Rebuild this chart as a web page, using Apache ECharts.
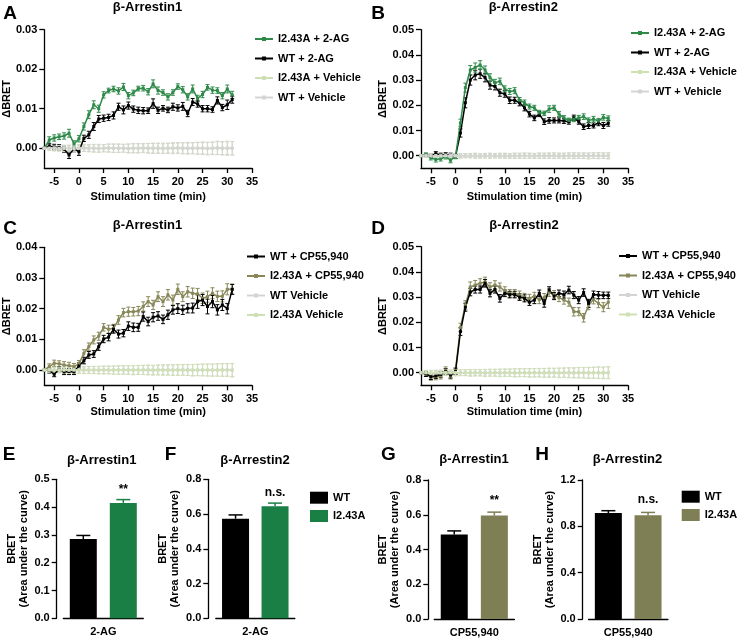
<!DOCTYPE html>
<html>
<head>
<meta charset="utf-8">
<script src="https://cdn.jsdelivr.net/npm/echarts@6/dist/echarts.min.js"></script>
<style>html,body{margin:0;background:#fff}#chart{width:740px;height:641px}</style>
</head>
<body>
<div id="chart"></div>
<script>
// time points (min), shared by the kinetic panels
const times = [-7,-6,-5,-4,-3,-2,-1,0,1,2, 3,4,5,6,7,8,9,10,11,12, 13,14,15,16,17,18,19,20,21,22, 23,24,25,26,27,28,29,30,31];

// A: beta-arrestin1, 2-AG
const aI = [0,.0021,.0026,.0029,.0031,.0038,.0011,.0024,.0055,.0085, .0110,.0100,.0135,.0146,.0150,.0145,.0155,.0133,.0140,.0151, .0152,.0143,.0163,.0146,.0141,.0130,.0141,.0156,.0148,.0130, .0150,.0126,.0136,.0154,.0147,.0146,.0133,.0150,.0135];
const aIerr = [0,.0008,.0008,.0007,.0008,.0010,.0008,.0008,.0009,.0010, .0010,.0009,.0008,.0006,.0007,.0008,.0009,.0008,.0007,.0006, .0007,.0008,.0010,.0009,.0007,.0008,.0007,.0007,.0008,.0008, .0010,.0008,.0008,.0007,.0008,.0007,.0008,.0010,.0009];
const aW = [0,.0005,.0003,.0002,-.0002,-.0017,-.0001,-.0009,.0025,.0034, .0055,.0074,.0076,.0078,.0083,.0105,.0097,.0108,.0099,.0096, .0095,.0095,.0113,.0096,.0101,.0097,.0105,.0102,.0106,.0088, .0117,.0112,.0100,.0100,.0098,.0121,.0103,.0110,.0123];
const aWerr = [0,.0006,.0007,.0007,.0008,.0009,.0008,.0009,.0008,.0009, .0010,.0009,.0008,.0008,.0009,.0009,.0010,.0009,.0008,.0008, .0008,.0007,.0012,.0008,.0007,.0007,.0009,.0008,.0010,.0008, .0009,.0008,.0008,.0008,.0007,.0009,.0008,.0012,.0009];
const aVI = [0,0,0,-.0001,0,0,-.0001,0,0,0, 0,-.0001,0,0,0,0,0,-.0001,0,0, 0,0,0,0,-.0001,0,0,0,0,0, 0,0,0,-.0001,0,0,0,0,0];
const aVIerr = [0,.0006,.0007,.0006,.0008,.0007,.0008,.0009,.0008,.0009, .0010,.0009,.0009,.0010,.0011,.0010,.0010,.0011,.0012,.0011, .0011,.0012,.0012,.0013,.0012,.0013,.0012,.0013,.0014,.0013, .0014,.0015,.0014,.0016,.0015,.0016,.0017,.0016,.0017];
const aVW = [0,0,.0001,0,0,0,0,0,.0001,0, 0,0,0,.0001,0,0,0,0,0,0, .0001,0,0,0,0,0,0,.0001,0,0, 0,0,0,0,0,.0001,0,0,0];
const aVWerr = [0,.0005,.0006,.0007,.0007,.0008,.0007,.0008,.0009,.0008, .0009,.0010,.0009,.0010,.0010,.0011,.0010,.0011,.0011,.0012, .0011,.0012,.0013,.0012,.0013,.0012,.0014,.0013,.0014,.0015, .0014,.0015,.0016,.0015,.0016,.0017,.0016,.0018,.0017];

// B: beta-arrestin2, 2-AG
const bI = [0,.0003,-.0008,-.0015,-.0012,-.0005,-.0018,-.0003,.0130,.0270, .0340,.0350,.0360,.0340,.0310,.0290,.0295,.0265,.0255,.0258, .0220,.0210,.0195,.0190,.0170,.0168,.0185,.0190,.0165,.0150, .0140,.0145,.0150,.0155,.0140,.0145,.0138,.0152,.0148];
const bIerr = [0,.0008,.0009,.0010,.0009,.0008,.0010,.0009,.0015,.0018, .0018,.0018,.0017,.0016,.0015,.0013,.0013,.0012,.0012,.0012, .0011,.0011,.0010,.0010,.0010,.0009,.0013,.0010,.0010,.0009, .0009,.0010,.0010,.0011,.0010,.0011,.0010,.0011,.0010];
const bW = [0,.0002,0,.0008,.0003,.0003,.0002,-.0003,.0090,.0210, .0300,.0320,.0325,.0310,.0280,.0275,.0250,.0245,.0220,.0220, .0210,.0190,.0165,.0150,.0165,.0135,.0140,.0140,.0140,.0138, .0135,.0150,.0135,.0115,.0120,.0120,.0130,.0120,.0128];
const bWerr = [0,.0007,.0008,.0008,.0007,.0009,.0008,.0008,.0016,.0020, .0020,.0019,.0018,.0017,.0016,.0014,.0014,.0013,.0013,.0012, .0012,.0012,.0011,.0011,.0010,.0011,.0011,.0010,.0010,.0010, .0010,.0011,.0010,.0011,.0012,.0010,.0011,.0012,.0011];
const bVI = [0,0,0,0,-.0001,0,0,0,-.0001,0, 0,0,-.0001,0,0,0,0,0,-.0001,0, 0,0,0,-.0001,0,0,0,0,0,-.0001, 0,0,0,0,-.0001,0,0,0,-.0001];
const bVIerr = [0,.0007,.0008,.0007,.0008,.0009,.0008,.0008,.0009,.0008, .0009,.0010,.0009,.0009,.0010,.0009,.0010,.0010,.0009,.0010, .0010,.0011,.0010,.0010,.0011,.0010,.0011,.0011,.0010,.0011, .0011,.0012,.0011,.0011,.0012,.0011,.0012,.0011,.0012];
const bVW = [0,0,0,0,0,0,0,0,0,0, 0,0,0,0,0,0,0,0,0,0, 0,0,0,0,0,0,0,0,0,0, 0,0,0,0,0,0,0,0,0];
const bVWerr = [0,.0006,.0007,.0007,.0007,.0008,.0008,.0007,.0008,.0008, .0008,.0009,.0008,.0009,.0009,.0008,.0009,.0009,.0009,.0010, .0009,.0010,.0010,.0009,.0010,.0010,.0010,.0011,.0010,.0010, .0011,.0010,.0011,.0011,.0010,.0011,.0011,.0011,.0011];

// C: beta-arrestin1, CP55,940
const cW = [0,-.0002,-.0014,.0002,-.0006,-.0005,-.0006,.0013,.0030,.0049, .0052,.0076,.0101,.0107,.0133,.0117,.0120,.0143,.0139,.0139, .0174,.0158,.0172,.0176,.0165,.0180,.0196,.0200,.0196,.0201, .0202,.0223,.0228,.0207,.0223,.0196,.0212,.0200,.0263];
const cWerr = [0,.0008,.0008,.0009,.0009,.0010,.0009,.0010,.0010,.0011, .0011,.0012,.0012,.0012,.0013,.0013,.0012,.0014,.0014,.0013, .0015,.0014,.0015,.0014,.0014,.0015,.0014,.0016,.0015,.0015, .0016,.0022,.0018,.0024,.0020,.0017,.0018,.0017,.0016];
const cI = [0,.0011,.0022,.0020,.0016,.0014,.0011,.0020,.0054,.0076, .0098,.0110,.0139,.0133,.0136,.0163,.0187,.0190,.0190,.0192, .0207,.0223,.0212,.0239,.0223,.0245,.0228,.0263,.0239,.0255, .0250,.0248,.0234,.0239,.0250,.0240,.0240,.0263,.0263];
const cIerr = [0,.0009,.0010,.0010,.0011,.0011,.0010,.0011,.0012,.0012, .0013,.0013,.0012,.0013,.0013,.0014,.0014,.0015,.0014,.0015, .0015,.0016,.0015,.0016,.0016,.0017,.0016,.0017,.0016,.0017, .0017,.0018,.0017,.0018,.0018,.0017,.0018,.0018,.0017];
const cVW = [0,0,0,0,0,0,0,0,0,0, 0,0,0,0,0,0,0,0,0,0, 0,0,0,0,0,0,0,0,0,0, 0,0,0,0,0,0,0,0,0];
const cVWerr = [0,.0007,.0008,.0009,.0009,.0010,.0010,.0010,.0011,.0011, .0011,.0012,.0012,.0012,.0013,.0013,.0013,.0014,.0014,.0014, .0015,.0015,.0015,.0016,.0016,.0016,.0017,.0017,.0017,.0018, .0018,.0018,.0019,.0019,.0019,.0020,.0020,.0020,.0021];
const cVI = [0,0,-.0001,0,0,-.0001,0,0,-.0001,0, 0,-.0001,0,0,-.0001,0,0,0,-.0001,0, 0,0,-.0001,0,0,0,-.0001,0,0,0, -.0001,0,0,0,-.0001,0,0,0,-.0001];
const cVIerr = [0,.0008,.0009,.0009,.0010,.0010,.0010,.0011,.0011,.0012, .0012,.0012,.0013,.0013,.0013,.0014,.0014,.0014,.0015,.0015, .0015,.0016,.0016,.0016,.0017,.0017,.0017,.0018,.0018,.0018, .0019,.0019,.0019,.0020,.0020,.0020,.0021,.0021,.0022];

// D: beta-arrestin2, CP55,940
const dW = [0,-.0005,-.0016,-.0013,-.0007,.0004,-.0009,.0004,.0163,.0260, .0320,.0330,.0330,.0355,.0315,.0330,.0295,.0315,.0310,.0310, .0300,.0295,.0280,.0288,.0315,.0275,.0328,.0304,.0315,.0310, .0328,.0308,.0288,.0318,.0275,.0310,.0308,.0307,.0307];
const dWerr = [0,.0010,.0011,.0010,.0011,.0012,.0012,.0011,.0015,.0016, .0015,.0014,.0014,.0015,.0014,.0014,.0015,.0013,.0013,.0013, .0013,.0014,.0013,.0014,.0013,.0015,.0013,.0014,.0013,.0014, .0015,.0014,.0014,.0015,.0016,.0014,.0014,.0013,.0013];
const dI = [0,-.0003,-.0018,-.0016,-.0013,.0010,-.0013,.0008,.0180,.0268, .0340,.0348,.0355,.0360,.0340,.0348,.0340,.0325,.0315,.0315, .0308,.0300,.0295,.0304,.0290,.0298,.0318,.0310,.0298,.0288, .0280,.0242,.0242,.0218,.0268,.0290,.0275,.0260,.0280];
const dIerr = [0,.0011,.0012,.0012,.0012,.0013,.0012,.0012,.0016,.0018, .0020,.0018,.0018,.0019,.0017,.0017,.0016,.0016,.0015,.0015, .0016,.0015,.0016,.0015,.0016,.0016,.0015,.0016,.0016,.0016, .0016,.0017,.0016,.0017,.0018,.0017,.0017,.0018,.0025];
const dVW = [0,0,0,0,0,0,0,0,0,0, 0,0,0,0,0,0,0,0,0,0, 0,0,0,0,0,0,0,0,0,0, 0,0,0,0,0,0,0,0,0];
const dVWerr = [0,.0008,.0009,.0009,.0010,.0010,.0010,.0011,.0011,.0011, .0012,.0012,.0012,.0013,.0013,.0013,.0014,.0014,.0014,.0015, .0015,.0015,.0016,.0016,.0016,.0017,.0017,.0017,.0018,.0018, .0019,.0019,.0020,.0020,.0021,.0021,.0022,.0022,.0023];
const dVI = [0,0,-.0001,0,-.0001,0,0,-.0001,0,0, -.0001,0,0,-.0001,0,0,-.0001,0,0,-.0001, 0,0,-.0001,0,0,-.0001,0,0,-.0001,0, 0,-.0001,0,0,-.0001,0,0,-.0001,0];
const dVIerr = [0,.0009,.0010,.0010,.0011,.0011,.0011,.0012,.0012,.0012, .0013,.0013,.0013,.0014,.0014,.0014,.0015,.0015,.0015,.0016, .0016,.0016,.0017,.0017,.0017,.0018,.0018,.0018,.0019,.0019, .0020,.0020,.0021,.0021,.0022,.0022,.0023,.0023,.0024];

// E-H: area under the curve
const barCats = ['WT', 'I2.43A'];
const eVals = [0.285, 0.415], eErr = [0.013, 0.012];
const fVals = [0.573, 0.645], fErr = [0.022, 0.018];
const gVals = [0.487, 0.595], gErr = [0.020, 0.020];
const hVals = [0.915, 0.895], hErr = [0.020, 0.025];
const sigLabels = ['**', 'n.s.', '**', 'n.s.'];

const xTicks = [-5, 0, 5, 10, 15, 20, 25, 30, 35];

const FONT = 'Liberation Sans, Arial, sans-serif';
const GREEN = '#2f8a4a', GREEN_BAR = '#1a7f45';
const OLIVE = '#878759', OLIVE_BAR = '#7f7f56';
const VEH_GREEN = '#cfe0b5', VEH_GREY = '#d4d4d4';

const chart = echarts.init(document.getElementById('chart'));

const axisStyle = { lineStyle: { color: '#000', width: 1.3 } };
const labelStyle = { color: '#000', fontSize: 11, fontWeight: 'bold', fontFamily: FONT };

function lineSeries(name, color, vals, g) {
  return {
    type: 'line', name, xAxisIndex: g, yAxisIndex: g,
    data: times.map((t, i) => [t, vals[i]]),
    symbol: 'rect', symbolSize: 3,
    lineStyle: { color, width: 1.5 }, itemStyle: { color },
    animation: false
  };
}

function errSeries(color, vals, errs, g) {
  return {
    type: 'custom', xAxisIndex: g, yAxisIndex: g, silent: true, animation: false,
    data: times.map((t, i) => [t, vals[i], errs[i]]),
    encode: { x: 0, y: 1 },
    renderItem(params, api) {
      const x = api.value(0), y = api.value(1), e = api.value(2);
      const lo = api.coord([x, y - e]), hi = api.coord([x, y + e]);
      const st = { stroke: color, lineWidth: 1 };
      return { type: 'group', children: [
        { type: 'line', shape: { x1: lo[0], y1: lo[1], x2: hi[0], y2: hi[1] }, style: st },
        { type: 'line', shape: { x1: lo[0] - 2, y1: lo[1], x2: lo[0] + 2, y2: lo[1] }, style: st },
        { type: 'line', shape: { x1: hi[0] - 2, y1: hi[1], x2: hi[0] + 2, y2: hi[1] }, style: st }
      ] };
    }
  };
}

const grids = [
  { left: 44, top: 29.7, width: 208, height: 138.3 },
  { left: 421, top: 29.7, width: 207, height: 138.6 },
  { left: 44, top: 247.3, width: 208, height: 138 },
  { left: 421, top: 246.7, width: 207, height: 138.6 },
  { left: 63.3, top: 479.3, width: 80, height: 139 },
  { left: 215.8, top: 479.3, width: 79, height: 139 },
  { left: 434.2, top: 480, width: 80.2, height: 139 },
  { left: 588.5, top: 480, width: 79.4, height: 139 }
];

const xAxes = [], yAxes = [];
const yMax = [0.03, 0.05, 0.04, 0.05];
const yTicks = [[0, .01, .02, .03], [0, .01, .02, .03, .04, .05], [0, .01, .02, .03, .04], [0, .01, .02, .03, .04, .05]];
for (let g = 0; g < 4; g++) {
  xAxes.push({
    type: 'value', gridIndex: g, min: -7, max: 35,
    name: 'Stimulation time (min)', nameLocation: 'middle', nameGap: g < 2 ? 23 : 21,
    nameTextStyle: labelStyle,
    axisLine: Object.assign({ onZero: false }, axisStyle),
    axisTick: { length: 5, lineStyle: axisStyle.lineStyle, customValues: xTicks },
    axisLabel: Object.assign({ margin: 8, customValues: xTicks }, labelStyle),
    splitLine: { show: false }
  });
  yAxes.push({
    type: 'value', gridIndex: g, min: -0.005, max: yMax[g],
    name: 'ΔBRET', nameLocation: 'middle', nameGap: 31,
    nameTextStyle: labelStyle,
    axisLine: Object.assign({ show: true, onZero: false }, axisStyle),
    axisTick: { show: true, length: 5, lineStyle: axisStyle.lineStyle, customValues: yTicks[g] },
    axisLabel: Object.assign({ margin: 7, customValues: yTicks[g], formatter: v => v.toFixed(2) }, labelStyle),
    splitLine: { show: false }
  });
}

const barSets = [
  { vals: eVals, err: eErr, color: GREEN_BAR, xName: '2-AG', max: 0.5, interval: 0.1, offset: 6.6, sigGap: 7 },
  { vals: fVals, err: fErr, color: GREEN_BAR, xName: '2-AG', max: 0.8, interval: 0.2, offset: 7.5, sigGap: 8 },
  { vals: gVals, err: gErr, color: OLIVE_BAR, xName: 'CP55,940', max: 0.8, interval: 0.2, offset: 5.9, sigGap: 9 },
  { vals: hVals, err: hErr, color: OLIVE_BAR, xName: 'CP55,940', max: 1.2, interval: 0.4, offset: 5.8, sigGap: 10 }
];
barSets.forEach((b, k) => {
  const g = 4 + k;
  xAxes.push({
    type: 'category', gridIndex: g, data: barCats,
    name: b.xName, nameLocation: 'middle', nameGap: 8, nameTextStyle: labelStyle,
    axisLine: axisStyle,
    axisTick: { alignWithLabel: true, length: 5, lineStyle: axisStyle.lineStyle },
    axisLabel: { show: false }
  });
  yAxes.push({
    type: 'value', gridIndex: g, min: 0, max: b.max, interval: b.interval, offset: b.offset,
    name: 'BRET\n(Area under the curve)', nameLocation: 'middle', nameGap: 27,
    nameTextStyle: Object.assign({ lineHeight: 12 }, labelStyle),
    axisLine: Object.assign({ show: true, onZero: false }, axisStyle),
    axisTick: { show: true, length: 5, lineStyle: axisStyle.lineStyle },
    axisLabel: Object.assign({ margin: 7, formatter: v => v.toFixed(1) }, labelStyle),
    splitLine: { show: false }
  });
});

const series = [
  lineSeries('I2.43A + 2-AG', GREEN, aI, 0), errSeries(GREEN, aI, aIerr, 0),
  lineSeries('WT + 2-AG', '#000', aW, 0), errSeries('#000', aW, aWerr, 0),
  lineSeries('I2.43A + Vehicle', VEH_GREEN, aVI, 0), errSeries(VEH_GREEN, aVI, aVIerr, 0),
  lineSeries('WT + Vehicle', VEH_GREY, aVW, 0), errSeries(VEH_GREY, aVW, aVWerr, 0),

  lineSeries('WT + 2-AG', '#000', bW, 1), errSeries('#000', bW, bWerr, 1),
  lineSeries('I2.43A + 2-AG', GREEN, bI, 1), errSeries(GREEN, bI, bIerr, 1),
  lineSeries('I2.43A + Vehicle', VEH_GREEN, bVI, 1), errSeries(VEH_GREEN, bVI, bVIerr, 1),
  lineSeries('WT + Vehicle', VEH_GREY, bVW, 1), errSeries(VEH_GREY, bVW, bVWerr, 1),

  lineSeries('I2.43A + CP55,940', OLIVE, cI, 2), errSeries(OLIVE, cI, cIerr, 2),
  lineSeries('WT + CP55,940', '#000', cW, 2), errSeries('#000', cW, cWerr, 2),
  lineSeries('WT Vehicle', VEH_GREY, cVW, 2), errSeries(VEH_GREY, cVW, cVWerr, 2),
  lineSeries('I2.43A Vehicle', VEH_GREEN, cVI, 2), errSeries(VEH_GREEN, cVI, cVIerr, 2),

  lineSeries('I2.43A + CP55,940', OLIVE, dI, 3), errSeries(OLIVE, dI, dIerr, 3),
  lineSeries('WT + CP55,940', '#000', dW, 3), errSeries('#000', dW, dWerr, 3),
  lineSeries('WT Vehicle', VEH_GREY, dVW, 3), errSeries(VEH_GREY, dVW, dVWerr, 3),
  lineSeries('I2.43A Vehicle', VEH_GREEN, dVI, 3), errSeries(VEH_GREEN, dVI, dVIerr, 3)
];

barSets.forEach((b, k) => {
  const g = 4 + k;
  barCats.forEach((cat, i) => {
    const color = i === 0 ? '#000' : b.color;
    series.push({
      type: 'bar', name: cat, xAxisIndex: g, yAxisIndex: g, barWidth: 27, barGap: '-100%',
      data: barCats.map((c, j) => (j === i ? b.vals[j] : '-')),
      itemStyle: { color }, animation: false,
      label: i === 1 ? { show: true, position: 'top', distance: b.sigGap, formatter: sigLabels[k],
        color: '#000', fontSize: 12, fontWeight: 'bold', fontFamily: FONT } : { show: false }
    });
    series.push({
      type: 'custom', xAxisIndex: g, yAxisIndex: g, silent: true, animation: false,
      data: [[i, b.vals[i], b.err[i]]], encode: { x: 0, y: 1 }, z: 1,
      renderItem(params, api) {
        const base = api.coord([api.value(0), api.value(1)]);
        const top = api.coord([api.value(0), api.value(1) + api.value(2)]);
        const st = { stroke: color, lineWidth: 1.5 };
        return { type: 'group', children: [
          { type: 'line', shape: { x1: base[0], y1: base[1], x2: top[0], y2: top[1] }, style: st },
          { type: 'line', shape: { x1: top[0] - 7, y1: top[1], x2: top[0] + 7, y2: top[1] }, style: st }
        ] };
      }
    });
  });
});

const legendText = { color: '#000', fontSize: 11, fontWeight: 'bold', fontFamily: FONT, lineHeight: 13 };
function lineLegend(left, top, names) {
  return { orient: 'vertical', left, top, padding: 0, itemWidth: 18, itemHeight: 5, itemGap: 6.5,
    selectedMode: false, textStyle: legendText, data: names };
}
function barLegend(left, top, color) {
  return { orient: 'vertical', left, top, padding: 0, itemWidth: 18, itemHeight: 12, itemGap: 5.3, icon: 'rect',
    selectedMode: false, textStyle: legendText,
    data: [{ name: 'WT', itemStyle: { color: '#000' } }, { name: 'I2.43A', itemStyle: { color } }] };
}

function txt(x, y, text, size) {
  return { type: 'text', x, y, style: { text, fill: '#000', font: 'bold ' + size + 'px ' + FONT,
    textAlign: 'center', align: 'center', textVerticalAlign: 'middle', verticalAlign: 'middle' } };
}

chart.setOption({
  backgroundColor: '#fff',
  animation: false,
  grid: grids,
  xAxis: xAxes,
  yAxis: yAxes,
  legend: [
    lineLegend(254, 32.5, ['I2.43A + 2-AG', 'WT + 2-AG', 'I2.43A + Vehicle', 'WT + Vehicle']),
    lineLegend(630, 26.5, ['I2.43A + 2-AG', 'WT + 2-AG', 'I2.43A + Vehicle', 'WT + Vehicle']),
    lineLegend(246, 250, ['WT + CP55,940', 'I2.43A + CP55,940', 'WT Vehicle', 'I2.43A Vehicle']),
    lineLegend(618, 249.5, ['WT + CP55,940', 'I2.43A + CP55,940', 'WT Vehicle', 'I2.43A Vehicle']),
    barLegend(310, 491.2, GREEN_BAR),
    barLegend(681.7, 490.2, OLIVE_BAR)
  ],
  graphic: [
    txt(10, 14, 'A', 19), txt(378, 14, 'B', 19), txt(10, 229, 'C', 19), txt(378, 229, 'D', 19),
    txt(9, 455, 'E', 19), txt(170.5, 455, 'F', 19), txt(388.5, 455, 'G', 19), txt(542, 455, 'H', 19),
    txt(147.5, 7.5, 'β-Arrestin1', 13), txt(523.3, 7.5, 'β-Arrestin2', 13),
    txt(147.5, 225, 'β-Arrestin1', 13), txt(524, 225, 'β-Arrestin2', 13),
    txt(101.7, 460, 'β-Arrestin1', 13), txt(255, 460, 'β-Arrestin2', 13),
    txt(474, 459, 'β-Arrestin1', 13), txt(627.5, 459, 'β-Arrestin2', 13)
  ],
  series
});
</script>
</body>
</html>
